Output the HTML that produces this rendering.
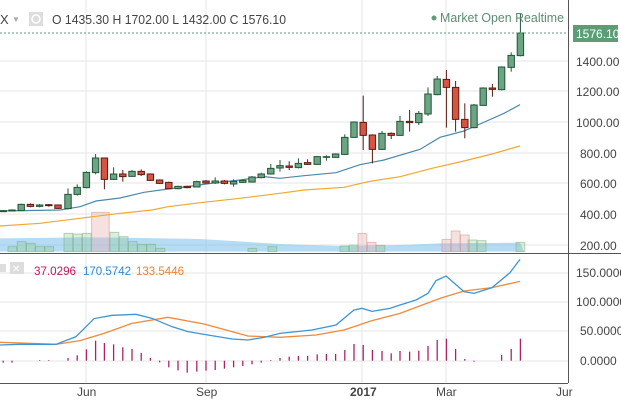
<!DOCTYPE html>
<html><head><meta charset="utf-8"><style>
html,body{margin:0;padding:0;background:#fff;width:621px;height:400px;overflow:hidden}
svg{display:block;font-family:"Liberation Sans",sans-serif}
.ns{vector-effect:non-scaling-stroke}
</style></head><body>
<svg width="621" height="400" viewBox="0 0 621 400" xmlns="http://www.w3.org/2000/svg">
<rect width="621" height="400" fill="#fff"/>
<g stroke="#e6e6e6" stroke-width="1">
<line x1="86" y1="0" x2="86" y2="383"/><line x1="206" y1="0" x2="206" y2="383"/>
<line x1="362" y1="0" x2="362" y2="383"/><line x1="446" y1="0" x2="446" y2="383"/>
<line x1="0" y1="61" x2="568" y2="61"/><line x1="0" y1="91" x2="568" y2="91"/>
<line x1="0" y1="122" x2="568" y2="122"/><line x1="0" y1="153" x2="568" y2="153"/>
<line x1="0" y1="183" x2="568" y2="183"/><line x1="0" y1="214" x2="568" y2="214"/>
<line x1="0" y1="245" x2="568" y2="245"/>
<line x1="0" y1="273" x2="568" y2="273"/><line x1="0" y1="302" x2="568" y2="302"/>
<line x1="0" y1="331" x2="568" y2="331"/><line x1="0" y1="361" x2="568" y2="361"/>
</g>
<line x1="568.5" y1="0" x2="568.5" y2="383" stroke="#555" stroke-width="1"/>
<line x1="0" y1="253.5" x2="621" y2="253.5" stroke="#555" stroke-width="1"/>
<line x1="0" y1="383.5" x2="568" y2="383.5" stroke="#555" stroke-width="1"/>
<g transform="scale(0.4,0.33333)">
<polygon points="0,715 200,712 300,713 500,717 700,732 850,738 1000,735 1100,730 1300,728 1310,755 0,755" fill="rgba(110,185,235,0.5)"/>
<g fill="rgba(140,200,140,0.3)" stroke="rgba(120,170,120,0.5)" stroke-width="1">
<rect class="ns" x="20" y="740" width="22" height="15"/><rect class="ns" x="43" y="725" width="22" height="30"/><rect class="ns" x="66" y="730" width="22" height="25"/><rect class="ns" x="89" y="740" width="22" height="15"/><rect class="ns" x="112" y="740" width="22" height="15"/><rect class="ns" x="160" y="700" width="22" height="55"/><rect class="ns" x="183" y="702" width="22" height="53"/><rect class="ns" x="206" y="700" width="22" height="55"/><rect class="ns" x="275" y="697" width="22" height="58"/><rect class="ns" x="298" y="710" width="22" height="45"/><rect class="ns" x="321" y="725" width="22" height="30"/><rect class="ns" x="344" y="733" width="22" height="22"/><rect class="ns" x="367" y="733" width="22" height="22"/><rect class="ns" x="390" y="745" width="22" height="10"/><rect class="ns" x="620" y="745" width="22" height="10"/><rect class="ns" x="670" y="740" width="22" height="15"/><rect class="ns" x="850" y="738" width="22" height="17"/><rect class="ns" x="873" y="735" width="22" height="20"/><rect class="ns" x="940" y="736" width="22" height="19"/><rect class="ns" x="1170" y="720" width="22" height="35"/><rect class="ns" x="1193" y="722" width="22" height="33"/><rect class="ns" x="1290" y="727" width="22" height="28"/>
</g>
<g fill="rgba(230,170,170,0.35)" stroke="rgba(200,140,140,0.5)" stroke-width="1">
<rect class="ns" x="229" y="637" width="44" height="118"/><rect class="ns" x="895" y="700" width="22" height="55"/><rect class="ns" x="918" y="727" width="22" height="28"/><rect class="ns" x="1105" y="718" width="22" height="37"/><rect class="ns" x="1128" y="693" width="22" height="62"/><rect class="ns" x="1151" y="705" width="22" height="50"/>
</g>
<polyline class="ns" fill="none" stroke="#f0a830" stroke-width="1.2" points="0,678 100,670 200,655 300,640 380,630 420,620 500,608 600,595 700,580 760,570 860,562 920,545 1000,530 1080,505 1160,483 1230,462 1300,438"/>
<polyline class="ns" fill="none" stroke="#4a8aa8" stroke-width="1.2" points="0,633 150,630 200,620 240,603 300,594 360,577 420,567 480,558 540,548 600,540 660,530 700,535 760,527 840,518 900,494 960,480 1050,448 1100,412 1160,393 1200,372 1260,340 1300,314"/>
<g stroke-width="1">
<g stroke="#225437" fill="#6ba583">
<line class="ns" x1="8" y1="630" x2="8" y2="636"/><rect class="ns" x="0" y="632" width="16" height="3"/>
<line class="ns" x1="30" y1="628" x2="30" y2="634"/><rect class="ns" x="22" y="630" width="16" height="3"/>
<line class="ns" x1="53" y1="611" x2="53" y2="633"/><rect class="ns" x="45" y="613" width="16" height="19"/>
<line class="ns" x1="99" y1="612" x2="99" y2="622"/><rect class="ns" x="91" y="615" width="16" height="4"/>
<line class="ns" x1="170" y1="565" x2="170" y2="628"/><rect class="ns" x="162" y="583" width="16" height="43"/>
<line class="ns" x1="193" y1="553" x2="193" y2="587"/><rect class="ns" x="185" y="562" width="16" height="21"/>
<line class="ns" x1="216" y1="514" x2="216" y2="565"/><rect class="ns" x="208" y="517" width="16" height="46"/>
<line class="ns" x1="239" y1="462" x2="239" y2="523"/><rect class="ns" x="231" y="474" width="16" height="44"/>
<line class="ns" x1="284" y1="502" x2="284" y2="540"/><rect class="ns" x="276" y="522" width="16" height="16"/>
<line class="ns" x1="330" y1="510" x2="330" y2="530"/><rect class="ns" x="322" y="514" width="16" height="15"/>
<line class="ns" x1="445" y1="557" x2="445" y2="568"/><rect class="ns" x="437" y="559" width="16" height="7"/>
<line class="ns" x1="492" y1="542" x2="492" y2="562"/><rect class="ns" x="484" y="545" width="16" height="16"/>
<line class="ns" x1="538" y1="532" x2="538" y2="552"/><rect class="ns" x="530" y="543" width="16" height="6"/>
<line class="ns" x1="584" y1="538" x2="584" y2="560"/><rect class="ns" x="576" y="544" width="16" height="8"/>
<line class="ns" x1="607" y1="538" x2="607" y2="549"/><rect class="ns" x="599" y="541" width="16" height="6"/>
<line class="ns" x1="630" y1="528" x2="630" y2="548"/><rect class="ns" x="622" y="531" width="16" height="15"/>
<line class="ns" x1="653" y1="518" x2="653" y2="535"/><rect class="ns" x="645" y="522" width="16" height="11"/>
<line class="ns" x1="677" y1="492" x2="677" y2="524"/><rect class="ns" x="669" y="505" width="16" height="17"/>
<line class="ns" x1="700" y1="480" x2="700" y2="515"/><rect class="ns" x="692" y="497" width="16" height="7"/>
<line class="ns" x1="746" y1="475" x2="746" y2="505"/><rect class="ns" x="738" y="490" width="16" height="13"/>
<line class="ns" x1="793" y1="468" x2="793" y2="495"/><rect class="ns" x="785" y="470" width="16" height="23"/>
<line class="ns" x1="816" y1="466" x2="816" y2="482"/><rect class="ns" x="808" y="470" width="16" height="2"/>
<line class="ns" x1="839" y1="460" x2="839" y2="474"/><rect class="ns" x="831" y="462" width="16" height="10"/>
<line class="ns" x1="862" y1="403" x2="862" y2="465"/><rect class="ns" x="854" y="412" width="16" height="51"/>
<line class="ns" x1="885" y1="364" x2="885" y2="413"/><rect class="ns" x="877" y="366" width="16" height="46"/>
<line class="ns" x1="955" y1="393" x2="955" y2="450"/><rect class="ns" x="947" y="400" width="16" height="48"/>
<line class="ns" x1="1000" y1="348" x2="1000" y2="408"/><rect class="ns" x="992" y="364" width="16" height="42"/>
<line class="ns" x1="1047" y1="333" x2="1047" y2="375"/><rect class="ns" x="1039" y="340" width="16" height="28"/>
<line class="ns" x1="1070" y1="262" x2="1070" y2="348"/><rect class="ns" x="1062" y="282" width="16" height="60"/>
<line class="ns" x1="1093" y1="228" x2="1093" y2="286"/><rect class="ns" x="1085" y="237" width="16" height="47"/>
<line class="ns" x1="1185" y1="312" x2="1185" y2="385"/><rect class="ns" x="1177" y="315" width="16" height="68"/>
<line class="ns" x1="1208" y1="262" x2="1208" y2="318"/><rect class="ns" x="1200" y="264" width="16" height="52"/>
<line class="ns" x1="1254" y1="199" x2="1254" y2="271"/><rect class="ns" x="1246" y="201" width="16" height="68"/>
<line class="ns" x1="1278" y1="157" x2="1278" y2="215"/><rect class="ns" x="1270" y="166" width="16" height="36"/>
<line class="ns" x1="1301" y1="40" x2="1301" y2="169"/><rect class="ns" x="1293" y="99" width="16" height="68"/>
</g>
<g stroke="#5b1a13" fill="#d75442">
<line class="ns" x1="76" y1="610" x2="76" y2="622"/><rect class="ns" x="68" y="613" width="16" height="6"/>
<line class="ns" x1="122" y1="612" x2="122" y2="620"/><rect class="ns" x="114" y="614" width="16" height="3"/>
<line class="ns" x1="145" y1="613" x2="145" y2="627"/><rect class="ns" x="137" y="615" width="16" height="10"/>
<line class="ns" x1="261" y1="474" x2="261" y2="568"/><rect class="ns" x="253" y="474" width="16" height="64"/>
<line class="ns" x1="307" y1="510" x2="307" y2="545"/><rect class="ns" x="299" y="522" width="16" height="8"/>
<line class="ns" x1="353" y1="508" x2="353" y2="528"/><rect class="ns" x="345" y="514" width="16" height="10"/>
<line class="ns" x1="376" y1="520" x2="376" y2="543"/><rect class="ns" x="368" y="522" width="16" height="19"/>
<line class="ns" x1="399" y1="538" x2="399" y2="552"/><rect class="ns" x="391" y="540" width="16" height="10"/>
<line class="ns" x1="422" y1="545" x2="422" y2="568"/><rect class="ns" x="414" y="547" width="16" height="19"/>
<line class="ns" x1="468" y1="557" x2="468" y2="565"/><rect class="ns" x="460" y="559" width="16" height="4"/>
<line class="ns" x1="515" y1="540" x2="515" y2="551"/><rect class="ns" x="507" y="543" width="16" height="6"/>
<line class="ns" x1="561" y1="540" x2="561" y2="553"/><rect class="ns" x="553" y="543" width="16" height="7"/>
<line class="ns" x1="723" y1="484" x2="723" y2="510"/><rect class="ns" x="715" y="498" width="16" height="4"/>
<line class="ns" x1="769" y1="478" x2="769" y2="495"/><rect class="ns" x="761" y="488" width="16" height="5"/>
<line class="ns" x1="908" y1="287" x2="908" y2="450"/><rect class="ns" x="900" y="367" width="16" height="39"/>
<line class="ns" x1="931" y1="403" x2="931" y2="490"/><rect class="ns" x="923" y="405" width="16" height="43"/>
<line class="ns" x1="978" y1="397" x2="978" y2="417"/><rect class="ns" x="970" y="400" width="16" height="6"/>
<line class="ns" x1="1024" y1="330" x2="1024" y2="395"/><rect class="ns" x="1016" y="364" width="16" height="4"/>
<line class="ns" x1="1116" y1="210" x2="1116" y2="383"/><rect class="ns" x="1108" y="238" width="16" height="24"/>
<line class="ns" x1="1139" y1="243" x2="1139" y2="395"/><rect class="ns" x="1131" y="262" width="16" height="96"/>
<line class="ns" x1="1162" y1="310" x2="1162" y2="415"/><rect class="ns" x="1154" y="358" width="16" height="25"/>
<line class="ns" x1="1231" y1="252" x2="1231" y2="290"/><rect class="ns" x="1223" y="264" width="16" height="4"/>
</g>
</g>
</g>
<line x1="0" y1="33" x2="568" y2="33" stroke="#5e9c76" stroke-width="1" stroke-dasharray="2,2"/>
<g transform="translate(0,250) scale(0.4,0.33333)">
<g stroke="#b0206a" stroke-width="1.3">
<line class="ns" x1="8" y1="332" x2="8" y2="338"/><line class="ns" x1="30" y1="332" x2="30" y2="338"/><line class="ns" x1="99" y1="332" x2="99" y2="330"/><line class="ns" x1="122" y1="332" x2="122" y2="330"/><line class="ns" x1="170" y1="332" x2="170" y2="324"/><line class="ns" x1="193" y1="332" x2="193" y2="316"/><line class="ns" x1="216" y1="332" x2="216" y2="298"/><line class="ns" x1="239" y1="332" x2="239" y2="272"/><line class="ns" x1="261" y1="332" x2="261" y2="279"/><line class="ns" x1="284" y1="332" x2="284" y2="283"/><line class="ns" x1="307" y1="332" x2="307" y2="292"/><line class="ns" x1="330" y1="332" x2="330" y2="297"/><line class="ns" x1="353" y1="332" x2="353" y2="309"/><line class="ns" x1="376" y1="332" x2="376" y2="324"/><line class="ns" x1="399" y1="332" x2="399" y2="337"/><line class="ns" x1="422" y1="332" x2="422" y2="352"/><line class="ns" x1="445" y1="332" x2="445" y2="361"/><line class="ns" x1="468" y1="332" x2="468" y2="368"/><line class="ns" x1="492" y1="332" x2="492" y2="365"/><line class="ns" x1="515" y1="332" x2="515" y2="362"/><line class="ns" x1="538" y1="332" x2="538" y2="360"/><line class="ns" x1="561" y1="332" x2="561" y2="356"/><line class="ns" x1="584" y1="332" x2="584" y2="352"/><line class="ns" x1="607" y1="332" x2="607" y2="348"/><line class="ns" x1="630" y1="332" x2="630" y2="343"/><line class="ns" x1="653" y1="332" x2="653" y2="338"/><line class="ns" x1="677" y1="332" x2="677" y2="330"/><line class="ns" x1="700" y1="332" x2="700" y2="324"/><line class="ns" x1="723" y1="332" x2="723" y2="320"/><line class="ns" x1="746" y1="332" x2="746" y2="318"/><line class="ns" x1="769" y1="332" x2="769" y2="318"/><line class="ns" x1="793" y1="332" x2="793" y2="313"/><line class="ns" x1="816" y1="332" x2="816" y2="312"/><line class="ns" x1="839" y1="332" x2="839" y2="312"/><line class="ns" x1="862" y1="332" x2="862" y2="300"/><line class="ns" x1="885" y1="332" x2="885" y2="282"/><line class="ns" x1="908" y1="332" x2="908" y2="285"/><line class="ns" x1="931" y1="332" x2="931" y2="300"/><line class="ns" x1="955" y1="332" x2="955" y2="303"/><line class="ns" x1="978" y1="332" x2="978" y2="310"/><line class="ns" x1="1000" y1="332" x2="1000" y2="303"/><line class="ns" x1="1024" y1="332" x2="1024" y2="305"/><line class="ns" x1="1047" y1="332" x2="1047" y2="302"/><line class="ns" x1="1070" y1="332" x2="1070" y2="288"/><line class="ns" x1="1093" y1="332" x2="1093" y2="270"/><line class="ns" x1="1116" y1="332" x2="1116" y2="266"/><line class="ns" x1="1139" y1="332" x2="1139" y2="297"/><line class="ns" x1="1162" y1="332" x2="1162" y2="327"/><line class="ns" x1="1185" y1="332" x2="1185" y2="335"/><line class="ns" x1="1254" y1="332" x2="1254" y2="315"/><line class="ns" x1="1278" y1="332" x2="1278" y2="297"/><line class="ns" x1="1301" y1="332" x2="1301" y2="266"/>
</g>
<polyline class="ns" fill="none" stroke="#ef8a3c" stroke-width="1.3" points="0,277 140,283 200,272 260,250 330,220 420,202 510,222 620,258 700,262 790,255 860,240 930,212 1000,190 1100,145 1160,123 1230,113 1300,94"/>
<polyline class="ns" fill="none" stroke="#3c96d4" stroke-width="1.3" points="0,285 50,283 140,283 190,260 235,206 280,196 340,193 380,205 430,230 470,245 520,255 580,267 620,270 660,262 700,250 780,240 840,225 885,180 905,175 930,184 975,175 1000,165 1040,150 1070,130 1090,92 1115,78 1160,125 1185,130 1230,113 1275,68 1300,28"/>
</g>
<g font-size="13" fill="#444">
<text x="0" y="24">X</text>
<text x="12" y="22" font-size="8" fill="#aaa">▼</text>
<rect x="29" y="12" width="14" height="14" fill="#ddd"/><circle cx="36" cy="19" r="4" fill="none" stroke="#fff" stroke-width="1.5"/>
<text x="52" y="24" textLength="234" lengthAdjust="spacingAndGlyphs">O 1435.30 H 1702.00 L 1432.00 C 1576.10</text>
</g>
<circle cx="434" cy="18" r="2.5" fill="#5e9c76"/>
<text x="440" y="22" font-size="13" fill="#5e8c70" textLength="124" lengthAdjust="spacingAndGlyphs">Market Open  Realtime</text>
<rect x="573" y="25" width="45" height="17" fill="#5e9c76"/>
<text x="576" y="38" font-size="12" fill="#fff">1576.10</text>
<g font-size="12" fill="#444">
<text x="576" y="66">1400.00</text><text x="576" y="96">1200.00</text><text x="576" y="127">1000.00</text>
<text x="580" y="158">800.00</text><text x="580" y="188">600.00</text><text x="580" y="219">400.00</text><text x="580" y="250">200.00</text>
<text x="576" y="277">150.0000</text><text x="576" y="306">100.0000</text><text x="580" y="335">50.0000</text><text x="580" y="365">0.0000</text>
<text x="77" y="396">Jun</text><text x="196" y="396">Sep</text><text x="350" y="396" font-weight="bold">2017</text><text x="436" y="396">Mar</text><text x="556" y="396">Jur</text>
</g>
<rect x="0" y="264" width="6" height="8" fill="#ddd"/><rect x="10" y="262" width="14" height="12" fill="#ddd"/>
<text x="12" y="272" font-size="10" fill="#fff">✕</text>
<g font-size="12"><text x="34" y="275" fill="#c2185b" textLength="42" lengthAdjust="spacingAndGlyphs">37.0296</text><text x="83" y="275" fill="#2f8ad0" textLength="48" lengthAdjust="spacingAndGlyphs">170.5742</text><text x="136" y="275" fill="#e8823a" textLength="48" lengthAdjust="spacingAndGlyphs">133.5446</text></g>
</svg>
</body></html>
